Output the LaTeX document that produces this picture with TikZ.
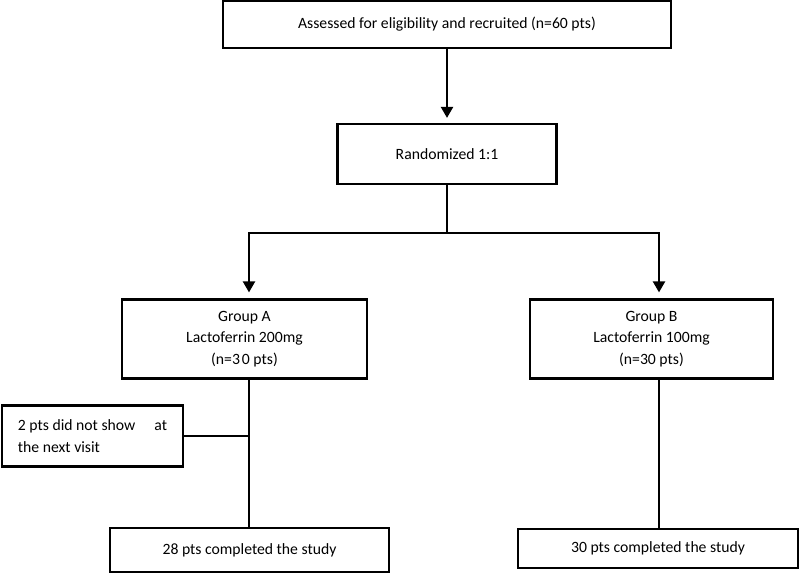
\documentclass[tikz,border=0pt]{standalone}
\usepackage{fontspec}
\setmainfont{Carlito}
\usetikzlibrary{arrows.meta}

\begin{document}
\begin{tikzpicture}[x=1pt,y=-1pt,
	box/.style={draw, line width=2.2pt, inner sep=0pt, align=center, font=\fontsize{15.7}{21.5}\selectfont},
	link/.style={line width=2.2pt},
	>={Triangle[width=12pt,length=11pt]}]
	\useasboundingbox (0,0) rectangle (800,573);
	\node	(top) at (447,24.5) [box, minimum width=448, minimum height=47] {Assessed for eligibility and recruited (n=60 pts)};
	\node	(rand) at (447,154) [box, minimum width=219, minimum height=60] {Randomized 1:1};
	\node	(grpA) at (244.5,339) [box, minimum width=245, minimum height=79] {Group A\\Lactoferrin 200mg\\(n=3\kern2pt 0 pts)};
	\node	(grpB) at (651.5,339) [box, minimum width=243, minimum height=79] {Group B\\Lactoferrin 100mg\\(n=30 pts)};
	\node	(drop) at (92.5,436) [box, align=left, minimum width=181, minimum height=61] {2 pts did not show\hspace{15.5pt} at\\the next visit};
	\node	(doneA) at (249.5,550) [box, minimum width=279, minimum height=44] {28 pts completed the study};
	\node	(doneB) at (658,548.5) [box, minimum width=280, minimum height=39] {30 pts completed the study};
	\coordinate (split) at (447,233);
	\coordinate (colA) at (249,233);
	\coordinate (colB) at (659,233);
	\draw[link,->,shorten >=5pt] (top) -- (rand);
	\draw[link] (rand) -- (split);
	\draw[link,->,shorten >=6pt] (split) -| (colA |- grpA.north);
	\draw[link,->,shorten >=6pt] (split) -| (colB |- grpB.north);
	\draw[link] (colA |- grpA.south) -- (colA |- doneA.north);
	\draw[link] (drop) -- (drop -| colA);
	\draw[link] (colB |- grpB.south) -- (colB |- doneB.north);
\end{tikzpicture}
\end{document}
